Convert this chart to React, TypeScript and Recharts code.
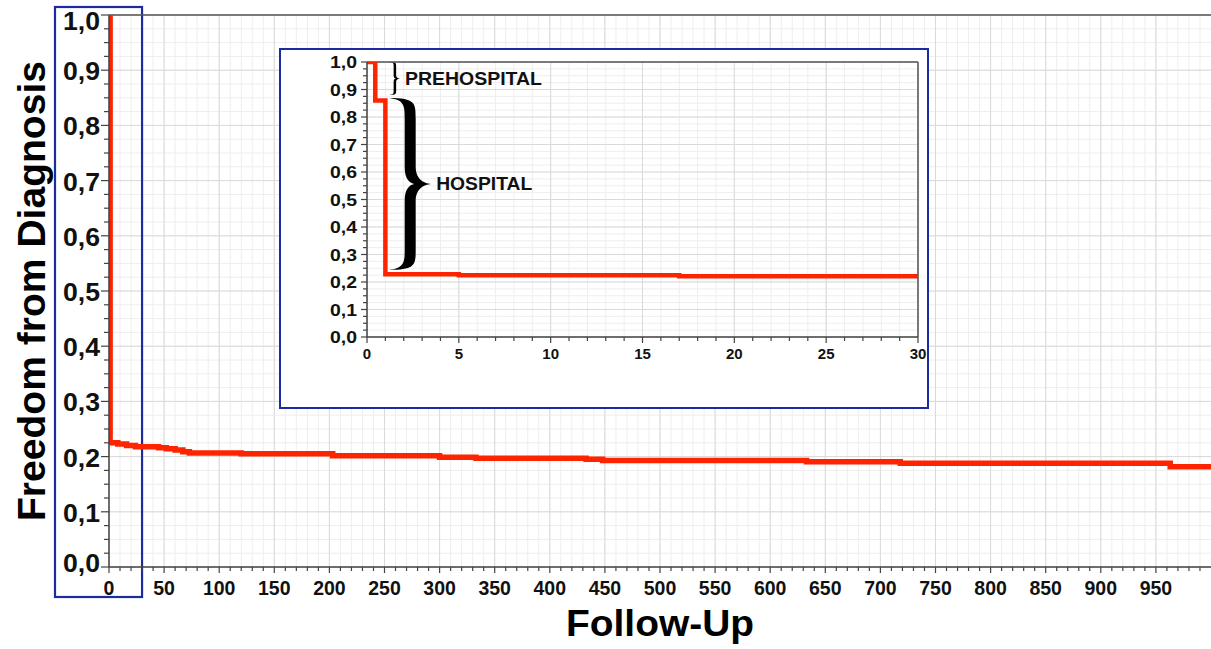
import {
  LineChart,
  Line,
  XAxis,
  YAxis,
  CartesianGrid,
  ReferenceLine,
  ReferenceArea,
  Label,
} from "recharts";

// survival curve, full follow-up (step points)
const MAIN_DAYS = [0, 1, 8, 16, 24, 45, 52, 60, 67, 73, 120, 203, 300, 333, 433, 448, 633, 718, 963, 1000];
const MAIN_SURV = [1.0, 0.225, 0.223, 0.22, 0.218, 0.216, 0.214, 0.212, 0.209, 0.2065, 0.205, 0.2015, 0.199, 0.197, 0.195, 0.193, 0.1905, 0.188, 0.1815, 0.1815];

// zoom on the first 30 days
const INSET_DAYS = [0, 0.45, 1, 5, 17, 30];
const INSET_SURV = [1.0, 0.86, 0.228, 0.225, 0.221, 0.221];

const MAIN_X_LABELS = [0, 50, 100, 150, 200, 250, 300, 350, 400, 450, 500, 550, 600, 650, 700, 750, 800, 850, 900, 950];
const Y_LABELS = [0, 0.1, 0.2, 0.3, 0.4, 0.5, 0.6, 0.7, 0.8, 0.9, 1.0];
const INSET_X_LABELS = [0, 5, 10, 15, 20, 25, 30];

const MAIN_X_TICKS = Array.from({ length: 100 }, (_, i) => i * 10);
const Y_TICKS = Array.from({ length: 41 }, (_, i) => +(i * 0.025).toFixed(3));
const INSET_X_TICKS = Array.from({ length: 31 }, (_, i) => i);

const mainData = MAIN_DAYS.map((t, i) => ({ t, s: MAIN_SURV[i] }));
const insetData = INSET_DAYS.map((t, i) => ({ t, s: INSET_SURV[i] }));

const FONT = "'Liberation Sans', Arial, Helvetica, sans-serif";
const RED = "#ff2400";
const BLUE = "#1c2b9e";
const AXIS = "#444";

const fmt = (v: number) => v.toFixed(1).replace(".", ",");
const isYMajor = (v: number) => Math.abs(v * 10 - Math.round(v * 10)) < 1e-6;

function MainXTick({ x, y, payload }: any) {
  const v = payload.value;
  const major = MAIN_X_LABELS.includes(v);
  return (
    <g>
      <line x1={x} x2={x} y1={y} y2={y + (major ? 6 : 4)} stroke={AXIS} strokeWidth={1.2} />
      {major && (
        <text x={x} y={y + 28} textAnchor="middle" fontSize={19.5} fontWeight="bold" fill="#111" fontFamily={FONT}>
          {v}
        </text>
      )}
    </g>
  );
}

function MainYTick({ x, y, payload }: any) {
  const v = payload.value;
  const major = isYMajor(v);
  const shift = v === 1 ? 6 : v === 0 ? -4 : 1;
  return (
    <g>
      <line x1={x - (major ? 8 : 5)} x2={x} y1={y} y2={y} stroke={AXIS} strokeWidth={1.2} />
      {major && (
        <text x={x - 9} y={y + shift} dy="0.36em" textAnchor="end" fontSize={25} fontWeight="bold" fill="#111" fontFamily={FONT} textLength={37} lengthAdjust="spacingAndGlyphs">
          {fmt(v)}
        </text>
      )}
    </g>
  );
}

function InsetXTick({ x, y, payload }: any) {
  const v = payload.value;
  const major = INSET_X_LABELS.includes(v);
  return (
    <g>
      <line x1={x} x2={x} y1={y} y2={y + (major ? 6 : 4)} stroke={AXIS} strokeWidth={1.2} />
      {major && (
        <text x={x} y={y + 22} textAnchor="middle" fontSize={15} fontWeight="bold" fill="#111" fontFamily={FONT}>
          {v}
        </text>
      )}
    </g>
  );
}

function InsetYTick({ x, y, payload }: any) {
  const v = payload.value;
  const major = isYMajor(v);
  return (
    <g>
      <line x1={x - (major ? 6 : 4)} x2={x} y1={y} y2={y} stroke={AXIS} strokeWidth={1.2} />
      {major && (
        <text x={x - 10} y={y} dy="0.36em" textAnchor="end" fontSize={17} fontWeight="bold" fill="#111" fontFamily={FONT} textLength={27} lengthAdjust="spacingAndGlyphs">
          {fmt(v)}
        </text>
      )}
    </g>
  );
}

function BlueBox({ x, y, width, height }: any) {
  return (
    <rect x={x - 54} y={y - 8} width={width + 54} height={height + 38} fill="none" stroke={BLUE} strokeWidth={2.2} />
  );
}

// right-pointing curly brace
function bracePath(x: number, y: number, w: number, h: number, t: number) {
  const xr = x + w * 0.49 + t / 2;
  const xl = x + w * 0.49 - t / 2;
  const ym = y + h / 2;
  const tip = x + w;
  const b = y + h;
  return [
    `M ${x} ${y}`,
    `C ${xr} ${y} ${xr} ${y + h * 0.03} ${xr} ${y + h * 0.12}`,
    `L ${xr} ${ym - h * 0.1}`,
    `C ${xr} ${ym - h * 0.02} ${tip - w * 0.15} ${ym} ${tip} ${ym}`,
    `C ${tip - w * 0.15} ${ym} ${xr} ${ym + h * 0.02} ${xr} ${ym + h * 0.1}`,
    `L ${xr} ${b - h * 0.12}`,
    `C ${xr} ${b - h * 0.03} ${xr} ${b} ${x} ${b}`,
    `C ${xl} ${b - h * 0.01} ${xl} ${b - h * 0.05} ${xl} ${b - h * 0.12}`,
    `L ${xl} ${ym + h * 0.1}`,
    `C ${xl} ${ym + h * 0.03} ${xl + t * 0.4} ${ym + h * 0.005} ${xl + t * 0.9} ${ym}`,
    `C ${xl + t * 0.4} ${ym - h * 0.005} ${xl} ${ym - h * 0.03} ${xl} ${ym - h * 0.1}`,
    `L ${xl} ${y + h * 0.12}`,
    `C ${xl} ${y + h * 0.05} ${xl} ${y + h * 0.01} ${x} ${y}`,
    "Z",
  ].join(" ");
}

function Brace({ x, y, width, height, t, text, len }: any) {
  const w = Math.abs(width);
  const h = Math.abs(height);
  return (
    <g>
      <path d={bracePath(x, y, w, h, t)} fill="#000" />
      <text x={x + w + 4} y={y + h / 2 + 6.5} fontSize={17.5} fontWeight="bold" fill="#111" fontFamily={FONT} textLength={len} lengthAdjust="spacingAndGlyphs">
        {text}
      </text>
    </g>
  );
}

export default function App() {
  return (
    <div style={{ position: "absolute", left: 0, top: 0, width: 1211, height: 649, background: "#fff", overflow: "hidden" }}>
      <LineChart width={1211} height={649} data={mainData} margin={{ top: 15, right: 0, left: 0, bottom: 0 }}>
        <CartesianGrid verticalValues={MAIN_X_TICKS} horizontalValues={Y_TICKS} stroke="#eeeeee" strokeWidth={1} />
        <CartesianGrid verticalValues={MAIN_X_LABELS} horizontalValues={Y_LABELS} stroke="#dadada" strokeWidth={1} />
        <XAxis
          type="number"
          dataKey="t"
          domain={[0, 1000]}
          ticks={MAIN_X_TICKS}
          interval={0}
          tickSize={0}
          tickMargin={0}
          tickLine={false}
          tick={(p: any) => <MainXTick {...p} />}
          axisLine={{ stroke: AXIS, strokeWidth: 1.5 }}
          height={82}
          allowDataOverflow
        >
          <Label
            content={({ viewBox }: any) => (
              <text x={viewBox.x + viewBox.width / 2} y={viewBox.y + 69} textAnchor="middle" fontSize={37} fontWeight="bold" fill="#000" fontFamily={FONT} textLength={188} lengthAdjust="spacingAndGlyphs">
                Follow-Up
              </text>
            )}
          />
        </XAxis>
        <YAxis
          type="number"
          domain={[0, 1]}
          ticks={Y_TICKS}
          interval={0}
          tickSize={0}
          tickMargin={0}
          tickLine={false}
          tick={(p: any) => <MainYTick {...p} />}
          axisLine={{ stroke: AXIS, strokeWidth: 1.5 }}
          width={109}
          allowDataOverflow
        >
          <Label
            content={({ viewBox }: any) => {
              const cx = viewBox.x + 45;
              const cy = viewBox.y + viewBox.height / 2;
              return (
                <text x={cx} y={cy} transform={`rotate(-90 ${cx} ${cy})`} textAnchor="middle" fontSize={39} fontWeight="bold" fill="#000" fontFamily={FONT} textLength={460} lengthAdjust="spacingAndGlyphs">
                  Freedom from Diagnosis
                </text>
              );
            }}
          />
        </YAxis>
        <ReferenceLine y={1} stroke="#555" strokeWidth={1.5} />
        <Line type="stepAfter" dataKey="s" stroke={RED} strokeWidth={5.5} dot={false} isAnimationActive={false} />
        <ReferenceArea x1={0} x2={30} y1={0} y2={1} ifOverflow="visible" shape={(p: any) => <BlueBox {...p} />} />
      </LineChart>

      <div
        style={{
          position: "absolute",
          left: 279,
          top: 48,
          width: 650,
          height: 361,
          boxSizing: "border-box",
          border: `2px solid ${BLUE}`,
          background: "#fff",
        }}
      >
        <LineChart width={646} height={357} data={insetData} margin={{ top: 12, right: 9, left: 0, bottom: 0 }}>
          <CartesianGrid verticalValues={INSET_X_TICKS} horizontalValues={Y_TICKS} stroke="#eeeeee" strokeWidth={1} />
          <CartesianGrid verticalValues={INSET_X_LABELS} horizontalValues={Y_LABELS} stroke="#dadada" strokeWidth={1} />
          <XAxis
            type="number"
            dataKey="t"
            domain={[0, 30]}
            ticks={INSET_X_TICKS}
            interval={0}
            tickSize={0}
            tickMargin={0}
            tickLine={false}
            tick={(p: any) => <InsetXTick {...p} />}
            axisLine={{ stroke: AXIS, strokeWidth: 1.5 }}
            height={70}
            allowDataOverflow
          />
          <YAxis
            type="number"
            domain={[0, 1]}
            ticks={Y_TICKS}
            interval={0}
            tickSize={0}
            tickMargin={0}
            tickLine={false}
            tick={(p: any) => <InsetYTick {...p} />}
            axisLine={{ stroke: AXIS, strokeWidth: 1.5 }}
            width={86}
            allowDataOverflow
          />
          <ReferenceLine y={1} stroke="#555" strokeWidth={1.5} />
          <ReferenceLine x={30} stroke="#555" strokeWidth={1.5} />
          <Line type="stepAfter" dataKey="s" stroke={RED} strokeWidth={4.5} dot={false} isAnimationActive={false} />
          <ReferenceArea
            x1={1.2}
            x2={1.85}
            y1={0.88}
            y2={1}
            ifOverflow="visible"
            shape={(p: any) => <Brace {...p} t={2.5} text="PREHOSPITAL" len={137} />}
          />
          <ReferenceArea
            x1={1.2}
            x2={3.55}
            y1={0.244}
            y2={0.869}
            ifOverflow="visible"
            shape={(p: any) => <Brace {...p} t={11} text="HOSPITAL" len={96} />}
          />
        </LineChart>
      </div>
    </div>
  );
}
